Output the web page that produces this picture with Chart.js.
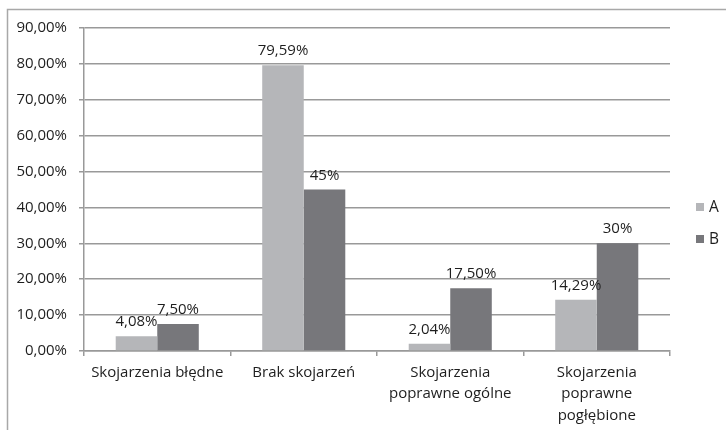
<!DOCTYPE html>
<html>
<head>
<meta charset="utf-8">
<script src="https://cdn.jsdelivr.net/npm/chart.js@4.4.1/dist/chart.umd.min.js"></script>
<style>
    html, body { margin: 0; padding: 0; background: #fff; }
    #wrap { width: 726px; height: 430px; position: relative; }
</style>
</head>
<body>
<div id="wrap"><canvas id="chart" width="726" height="430"></canvas></div>
<script>
    // dane
    var categories = [
        ['Skojarzenia błędne'],
        ['Brak skojarzeń'],
        ['Skojarzenia', 'poprawne ogólne'],
        ['Skojarzenia', 'poprawne', 'pogłębione']
    ];
    var seriesNames = ['A', 'B'];
    var valuesA = [4.08, 79.59, 2.04, 14.29];
    var valuesB = [7.5, 45, 17.5, 30];
    var labelsA = ['4,08%', '79,59%', '2,04%', '14,29%'];
    var labelsB = ['7,50%', '45%', '17,50%', '30%'];
    var yTicks = [0, 10, 20, 30, 40, 50, 60, 70, 80, 90];

    var FONT = '"Open Sans", sans-serif';
    var TEXT = '#1e1e1e';
    var GRID = '#999999';

    Chart.defaults.font.family = FONT;
    Chart.defaults.font.size = 15;
    Chart.defaults.color = TEXT;

    // ramka wykresu
    var framePlugin = {
        id: 'frame',
        beforeDraw(chart) {
            let ctx = chart.ctx;
            ctx.save();
            ctx.strokeStyle = '#a8a8a8';
            ctx.lineWidth = 1.5;
            ctx.strokeRect(7.5, 9.5, 900, 900);
            ctx.restore();
        }
    };

    // etykiety nad słupkami
    var valueLabels = {
        id: 'valueLabels',
        afterDatasetsDraw(chart) {
            let ctx = chart.ctx;
            ctx.save();
            ctx.font = '15px ' + FONT;
            ctx.fillStyle = TEXT;
            ctx.textAlign = 'center';
            ctx.textBaseline = 'alphabetic';
            chart.data.datasets.forEach((ds, i) => {
                let meta = chart.getDatasetMeta(i);
                meta.data.forEach((bar, j) => {
                    ctx.fillText(ds.valueLabels[j], bar.x, bar.y - 10);
                });
            });
            ctx.restore();
        }
    };

    // legenda po prawej
    var sideLegend = {
        id: 'sideLegend',
        afterDraw(chart) {
            let ctx = chart.ctx;
            ctx.save();
            ctx.font = '15.5px ' + FONT;
            ctx.textBaseline = 'middle';
            chart.data.datasets.forEach((ds, i) => {
                let y = 207 + i * 32;
                ctx.fillStyle = ds.backgroundColor;
                ctx.fillRect(696, y - 4, 8, 8);
                ctx.fillStyle = TEXT;
                ctx.fillText(ds.label, 709, y + 1);
            });
            ctx.restore();
        }
    };

    var ctx = document.getElementById('chart');
    var myChart = new Chart(ctx, {
        type: 'bar',
        data: {
            labels: categories,
            datasets: [
                {label: seriesNames[0], data: valuesA, valueLabels: labelsA, backgroundColor: '#b5b6b9'},
                {label: seriesNames[1], data: valuesB, valueLabels: labelsB, backgroundColor: '#77777b'}
            ]
        },
        options: {
            responsive: false,
            animation: false,
            layout: {padding: {left: 0, top: 28, right: 56, bottom: 0}},
            datasets: {bar: {categoryPercentage: 0.567, barPercentage: 1}},
            plugins: {legend: {display: false}, tooltip: {enabled: false}},
            scales: {
                x: {
                    grid: {drawOnChartArea: false, color: GRID, lineWidth: 1.5, tickLength: 5},
                    border: {color: GRID, width: 1.5},
                    ticks: {padding: 6, maxRotation: 0, autoSkip: false, font: {size: 15, lineHeight: 1.42}},
                    afterFit(scale) { scale.height = 79; }
                },
                y: {
                    min: 0,
                    max: 90,
                    afterBuildTicks(scale) { scale.ticks = yTicks.map(v => ({value: v})); },
                    grid: {color: GRID, lineWidth: 1.5, tickLength: 5},
                    border: {color: GRID, width: 1.5},
                    ticks: {
                        padding: 12,
                        callback: v => v.toFixed(2).replace('.', ',') + '%'
                    },
                    afterFit(scale) { scale.width = 84; }
                }
            }
        },
        plugins: [framePlugin, valueLabels, sideLegend]
    });
</script>
</body>
</html>
